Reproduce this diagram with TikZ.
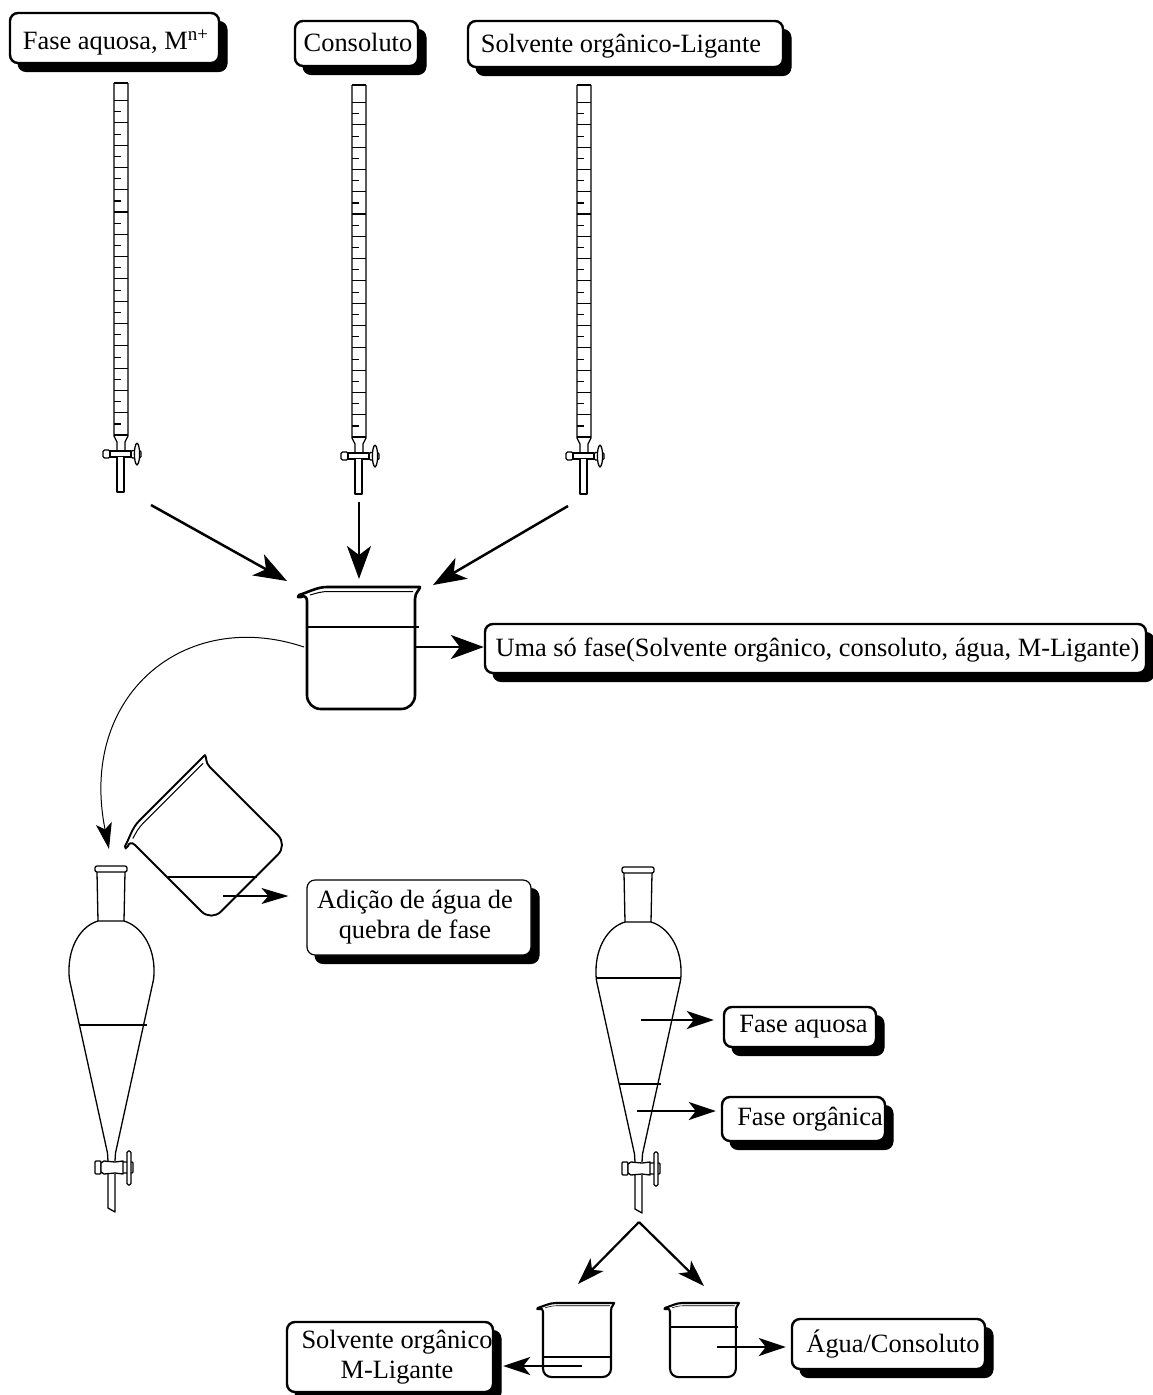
\documentclass[tikz,border=0pt]{standalone}
\usepackage{fontspec}
\setmainfont{Liberation Serif}
\usetikzlibrary{arrows.meta,shadows}
\newcommand{\tx}[3]{\hspace*{#1pt}\raisebox{-#2pt}{#3}}
\tikzset{
  x=1pt,y=-1pt,
  boxst/.style={draw=black,fill=white,line width=2.4pt,rounded corners=8pt,inner sep=0pt,
    font=\fontsize{26.4}{30}\selectfont,
    copy shadow={shadow xshift=8pt,shadow yshift=-8.5pt,fill=black,draw=black,line width=1pt}},
  oneline/.style={boxst,text height=18pt,text depth=6pt},
  thinbox/.style={boxst,line width=1.2pt},
  bigarrow/.style={line width=2.5pt,-{Stealth[length=33pt,width=24pt,inset=9pt]}},
  midarrow/.style={line width=2.2pt,-{Stealth[length=27pt,width=18pt,inset=7pt]}},
  smallarrow/.style={line width=1.2pt,-{Stealth[length=27pt,width=16pt,inset=7pt]}},
  glass/.style={line width=1.3pt,line join=round},
  level/.style={line width=1.3pt},
  thicklevel/.style={line width=2.4pt},
}
% burette: centre x, top y
\newcommand{\burettedraw}[2]{%
\begin{scope}[shift={(#1,#2)}]
  \draw[glass,line width=1.5pt] (-7,0) -- (7,0);
  \draw[glass] (-7,0) -- (-7,353) -- (-4,359) -- (-4,367);
  \draw[glass] (7,0) -- (7,353) -- (4,359) -- (4,367);
  \foreach \k in {0,...,15} {\draw[line width=1.1pt] (-7,352-22.3*\k) -- (7,352-22.3*\k);}
  \foreach \k in {0,...,14} {\draw[line width=1.1pt] (-7,341-22.3*\k) -- (0,341-22.3*\k);}
  \draw[glass,rounded corners=1.5pt] (-18,367) rectangle (-11,375);
  \draw[glass] (-11,368) -- (10,368) -- (10,374) -- (-11,374) -- cycle;
  \draw[glass,rounded corners=1.5pt] (10,367.5) rectangle (20,375);
  \draw[glass,fill=white] (16,360) .. controls (12.5,362) and (12.5,380) .. (16,382) .. controls (19.5,380) and (19.5,362) .. (16,360);
  \draw[glass,fill=white] (-4,374) -- (-4,409) -- (3,409) -- (3,374);
\end{scope}}
% beaker: shift x,y; rotation; xscale; yscale; outline width; inner width
\newcommand{\beakerdraw}[7]{%
\begin{scope}[shift={(#1,#2)},rotate=#3,xscale=#4,yscale=#5]
  \draw[line width=#6,line join=round,fill=white]
    (-9,10) -- (-8,8) .. controls (2,5) and (10,0) .. (20,0) -- (113,0)
    .. controls (113,3) and (108,5) .. (108,12) -- (108,108)
    .. controls (108,116) and (102,122) .. (94,122) -- (14,122)
    .. controls (6,122) and (0,116) .. (0,108) -- (0,14)
    .. controls (0,10) and (-3,8) .. (-6,10) -- cycle;
  \draw[line width=#7] (3,8) .. controls (10,6) and (14,4.5) .. (22,4.5) -- (106,4.5);
\end{scope}}
% separatory funnel: centre x, top y
\newcommand{\funneldraw}[2]{%
\begin{scope}[shift={(#1,#2)}]
  \draw[glass,rounded corners=2pt] (-16,0) rectangle (16,6);
  \draw[glass] (-14,6) -- (-13,55) -- (13,55) -- (14,6);
  \draw[glass] (-13,55) .. controls (-30,60) and (-42,80) .. (-42,104)
    .. controls (-42,108) and (-42,112) .. (-41,116) -- (-3.5,287);
  \draw[glass] (13,55) .. controls (30,60) and (43,80) .. (43,104)
    .. controls (43,108) and (43,112) .. (42,116) -- (4.5,287);
  \draw[glass] (-3.5,287) -- (-3,295);
  \draw[glass] (4.5,287) -- (4,295);
  \draw[glass,rounded corners=1pt] (-16,295) rectangle (-10,308);
  \draw[glass,fill=white] (-10,297) -- (-7,295) -- (4,296) -- (12,295) -- (12,308) -- (4,307) -- (-7,308) -- (-10,306) -- cycle;
  \draw[glass,rounded corners=1pt] (12,296) -- (22,296) -- (22,307) -- (12,307);
  \draw[glass,rounded corners=1.5pt,fill=white] (16,285) rectangle (20,319);
  \draw[glass] (-3,308) -- (-3,342) -- (4,346) -- (4,308);
\end{scope}}
\begin{document}
\begin{tikzpicture}
\useasboundingbox (0,0) rectangle (1153,1395);
% labels
\node[oneline,minimum width=209pt,minimum height=50pt] (faseM) at (114.5,38)
  {\tx{2}{5}{Fase aquosa, M\raisebox{9pt}{\fontsize{19}{19}\selectfont n+}}};
\node[oneline,minimum width=123pt,minimum height=45pt] (cons) at (356.5,43.5) {\tx{3}{1.5}{Consoluto}};
\node[oneline,minimum width=315pt,minimum height=46pt] (solvlig) at (625.5,44) {\tx{-9}{2}{Solvente orgânico-Ligante}};
\node[oneline,minimum width=661pt,minimum height=49pt] (uma) at (815.5,648.5) {\tx{4}{2}{Uma só fase(Solvente orgânico, consoluto, água, M-Ligante)}};
\node[thinbox,minimum width=224pt,minimum height=75pt] (adicao) at (419,917.5) {\hspace*{-8pt}\begin{tabular}{@{}c@{}}Adição de água de\\quebra de fase\end{tabular}};
\node[oneline,minimum width=152pt,minimum height=40pt] (faq) at (800,1027) {\tx{7}{-1}{Fase aquosa}};
\node[oneline,minimum width=163pt,minimum height=44pt] (forg) at (803.5,1119) {\tx{13}{0}{Fase orgânica}};
\node[boxst,minimum width=206pt,minimum height=70pt] (solvm) at (390,1357)
  {\hspace*{14pt}\begin{tabular}{@{}c@{}}Solvente orgânico\\M-Ligante\end{tabular}};
\node[oneline,minimum width=193pt,minimum height=50pt] (aguac) at (888.5,1344) {\tx{9}{2}{Água/Consoluto}};
% glassware
\burettedraw{121}{83}
\burettedraw{359}{85}
\burettedraw{584}{85}
\beakerdraw{307}{587}{0}{1}{1}{2.6pt}{1pt}
\draw[thicklevel] (307,627) -- (419,627);
\funneldraw{111}{866}
\draw[level] (80,1025) -- (147,1025);
\beakerdraw{125}{835}{45}{1}{1}{1.9pt}{1pt}
\draw[level] (168,877) -- (257,877);
\funneldraw{638}{867}
\draw[thicklevel] (597,978) -- (681,978);
\draw[thicklevel] (619,1084) -- (661,1084);
\beakerdraw{543}{1303}{0}{0.63}{0.607}{2.1pt}{0.6pt}
\draw[thicklevel,line width=2pt] (543,1357) -- (612,1357);
\beakerdraw{670}{1303}{0}{0.61}{0.607}{2.1pt}{0.6pt}
\draw[thicklevel,line width=2pt] (670,1327) -- (738,1327);
% connector ends
\coordinate (b1end) at (151,505);
\coordinate (b2end) at (359,502);
\coordinate (b3end) at (568,506);
\coordinate (inL) at (287,581);
\coordinate (inM) at (359,579);
\coordinate (inR) at (433,585);
\coordinate (outU) at (416,647);
\coordinate (curveS) at (304,647);
\coordinate (curveE) at (109,849);
\coordinate (tiltS) at (223,896);
\coordinate (faqS) at (641,1020);
\coordinate (forgS) at (637,1111);
\coordinate (apex) at (639,1222);
\coordinate (splitL) at (578,1284);
\coordinate (splitR) at (704,1286);
\coordinate (b4S) at (582,1366);
\coordinate (b5S) at (717,1347);
% connectors
\draw[bigarrow] (b1end) -- (inL);
\draw[bigarrow] (b2end) -- (inM);
\draw[bigarrow] (b3end) -- (inR);
\draw[bigarrow] (outU) -- (uma.west|-outU);
\draw[line width=1pt,-{Stealth[length=26pt,width=16pt,inset=6pt]}] (curveS) .. controls (185,607) and (78,695) .. (curveE);
\draw[smallarrow] (tiltS) -- ([xshift=-18pt]adicao.west|-tiltS);
\draw[midarrow] (faqS) -- ([xshift=-9pt]faq.west|-faqS);
\draw[midarrow] (forgS) -- ([xshift=-5pt]forg.west|-forgS);
\draw[midarrow] (apex) -- (splitL);
\draw[midarrow] (apex) -- (splitR);
\draw[midarrow] (b4S) -- ([xshift=9pt]solvm.east|-b4S);
\draw[midarrow] (b5S) -- ([xshift=-5pt]aguac.west|-b5S);
\end{tikzpicture}
\end{document}
